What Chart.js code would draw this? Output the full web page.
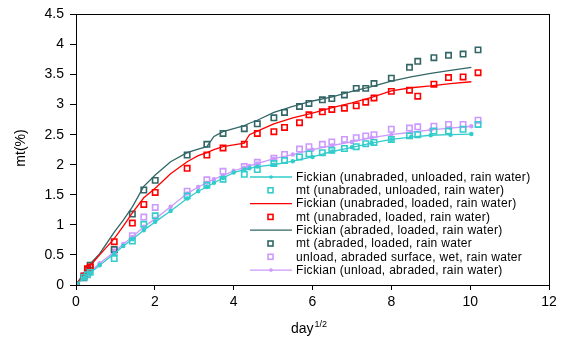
<!DOCTYPE html>
<html>
<head>
<meta charset="utf-8">
<script src="https://cdn.jsdelivr.net/npm/chart.js@4.4.0/dist/chart.umd.min.js"></script>
<style>
html, body { margin: 0; padding: 0; background: #fff; }
</style>
</head>
<body>
<canvas id="myChart" width="568" height="343"></canvas>
<script>
// DATOS MEDIDOS (x = day^1/2)
const mtX = [0, 0.2, 0.29, 0.36, 0.97, 1.43, 1.72, 2.01, 2.82, 3.32, 3.73, 4.27, 4.6, 5.02, 5.29, 5.67, 5.91, 6.25, 6.49, 6.81, 7.11, 7.35, 7.56, 8.0, 8.46, 8.67, 9.08, 9.45, 9.82, 10.2];
const mtUnabUnload = [0, 0.13, 0.17, 0.21, 0.44, 0.73, 1.01, 1.15, 1.48, 1.66, 1.76, 1.84, 1.92, 2.02, 2.07, 2.13, 2.18, 2.2, 2.24, 2.27, 2.3, 2.35, 2.37, 2.42, 2.48, 2.5, 2.56, 2.56, 2.59, 2.67];
const mtUnabLoad = [0, 0.15, 0.27, 0.3, 0.72, 1.03, 1.34, 1.54, 1.94, 2.16, 2.28, 2.34, 2.52, 2.55, 2.62, 2.7, 2.83, 2.88, 2.92, 2.94, 2.98, 3.04, 3.11, 3.22, 3.24, 3.14, 3.34, 3.45, 3.46, 3.53];
const mtAbLoad = [0, 0.12, 0.25, 0.33, 0.59, 1.18, 1.58, 1.74, 2.16, 2.34, 2.52, 2.6, 2.68, 2.78, 2.87, 2.97, 3.02, 3.08, 3.1, 3.16, 3.27, 3.27, 3.35, 3.44, 3.62, 3.72, 3.78, 3.82, 3.84, 3.91];
const mtUnloadAbWet = [0, 0.15, 0.19, 0.27, 0.55, 0.82, 1.13, 1.29, 1.56, 1.75, 1.89, 1.97, 2.04, 2.11, 2.17, 2.26, 2.3, 2.34, 2.38, 2.42, 2.45, 2.48, 2.5, 2.59, 2.61, 2.63, 2.64, 2.67, 2.67, 2.74];

// CURVAS FICKIAN
const fitX = [0, 0.2, 0.36, 0.6, 0.97, 1.2, 1.43, 1.72, 2.01, 2.4, 2.82, 3.1, 3.32, 3.5, 3.73, 4.0, 4.27, 4.4, 4.6, 5.02, 5.5, 6.0, 6.5, 7.0, 7.5, 8.0, 8.5, 9.0, 9.5, 10.03];
const fickUnabUnload = [0, 0.12, 0.2, 0.33, 0.52, 0.65, 0.76, 0.91, 1.05, 1.23, 1.44, 1.56, 1.63, 1.7, 1.78, 1.87, 1.92, 1.94, 1.97, 2.0, 2.06, 2.13, 2.22, 2.29, 2.36, 2.42, 2.46, 2.49, 2.5, 2.51];
const fickUnabLoad = [0, 0.18, 0.32, 0.5, 0.77, 0.98, 1.2, 1.45, 1.61, 1.85, 2.05, 2.15, 2.2, 2.25, 2.3, 2.33, 2.36, 2.5, 2.56, 2.68, 2.78, 2.86, 2.95, 3.03, 3.12, 3.23, 3.28, 3.31, 3.35, 3.38];
const fickAbLoad = [0, 0.2, 0.35, 0.52, 0.88, 1.08, 1.3, 1.64, 1.83, 2.05, 2.2, 2.26, 2.3, 2.47, 2.55, 2.6, 2.65, 2.69, 2.74, 2.87, 2.97, 3.06, 3.13, 3.22, 3.3, 3.39, 3.46, 3.52, 3.57, 3.62];
const fickUnloadAb = [0, 0.13, 0.22, 0.36, 0.55, 0.68, 0.8, 0.97, 1.1, 1.3, 1.52, 1.63, 1.7, 1.76, 1.82, 1.9, 1.95, 1.98, 2.02, 2.1, 2.17, 2.25, 2.32, 2.38, 2.45, 2.5, 2.54, 2.58, 2.61, 2.64];

// ETIQUETAS
const seriesLabels = [
    'Fickian (unabraded, unloaded, rain water)',
    'mt (unabraded, unloaded, rain water)',
    'Fickian (unabraded, loaded, rain water)',
    'mt (unabraded, loaded, rain water)',
    'Fickian (abraded, loaded, rain water)',
    'mt (abraded, loaded, rain water',
    'unload, abraded surface, wet, rain water',
    'Fickian (unload, abraded, rain water)'
];

const CYAN = '#33CCCC', RED = '#FF0000', DARK = '#336666', PURPLE = '#CC99FF';
const FONT = 'Liberation Sans, Arial, sans-serif';

function pts(xs, ys) {
    return xs.map((x, i) => ({ x: x, y: ys[i] }));
}

function lineSet(label, xs, ys, color, dots) {
    return {
        label: label, data: pts(xs, ys), showLine: true,
        borderColor: color, backgroundColor: color, borderWidth: 1.3,
        pointRadius: dots ? 1.6 : 0, pointStyle: 'circle', tension: 0
    };
}

function markSet(label, xs, ys, color) {
    return {
        label: label, data: pts(xs, ys), showLine: false,
        borderColor: color, backgroundColor: 'rgba(0,0,0,0)', borderWidth: 1.6,
        pointRadius: 3.8, pointStyle: 'rect'
    };
}

const datasets = [
    lineSet(seriesLabels[0], fitX, fickUnabUnload, CYAN, true),
    markSet(seriesLabels[1], mtX, mtUnabUnload, CYAN),
    lineSet(seriesLabels[2], fitX, fickUnabLoad, RED, false),
    markSet(seriesLabels[3], mtX, mtUnabLoad, RED),
    lineSet(seriesLabels[4], fitX, fickAbLoad, DARK, false),
    markSet(seriesLabels[5], mtX, mtAbLoad, DARK),
    markSet(seriesLabels[6], mtX, mtUnloadAbWet, PURPLE),
    lineSet(seriesLabels[7], fitX, fickUnloadAb, PURPLE, true)
];

// MARCO, LEYENDA Y TITULOS
const extras = {
    id: 'extras',
    afterDraw(chart) {
        const ctx = chart.ctx;
        const a = chart.chartArea;
        ctx.save();
        ctx.strokeStyle = '#000';
        ctx.lineWidth = 1;
        ctx.strokeRect(Math.round(a.left) + 0.5, Math.round(a.top) + 0.5, Math.round(a.right - a.left), Math.round(a.bottom - a.top));

        // leyenda
        ctx.font = '12px ' + FONT;
        ctx.letterSpacing = '0.3px';
        ctx.textBaseline = 'middle';
        ctx.textAlign = 'left';
        chart.data.datasets.forEach((ds, i) => {
            const y = 177 + i * 13.3;
            if (ds.showLine) {
                ctx.strokeStyle = ds.borderColor;
                ctx.lineWidth = 1.3;
                ctx.beginPath();
                ctx.moveTo(250, y);
                ctx.lineTo(292, y);
                ctx.stroke();
                if (ds.pointRadius > 0) {
                    ctx.fillStyle = ds.borderColor;
                    ctx.beginPath();
                    ctx.arc(271, y, 1.8, 0, Math.PI * 2);
                    ctx.fill();
                }
            } else {
                ctx.strokeStyle = ds.borderColor;
                ctx.lineWidth = 1.6;
                ctx.strokeRect(268, y - 2.5, 5, 5);
            }
            ctx.fillStyle = '#000';
            ctx.fillText(ds.label, 296, y + 0.5);
        });
        ctx.letterSpacing = '0px';

        // titulo eje x con superindice
        ctx.font = '14px ' + FONT;
        ctx.textBaseline = 'alphabetic';
        ctx.fillText('day', 291, 333);
        const w = ctx.measureText('day').width;
        ctx.font = '9px ' + FONT;
        ctx.fillText('1/2', 291 + w + 1, 327);

        // titulo eje y
        ctx.font = '14px ' + FONT;
        ctx.translate(21, 148);
        ctx.rotate(-Math.PI / 2);
        ctx.textAlign = 'center';
        ctx.textBaseline = 'middle';
        ctx.fillText('mt(%)', 0, 0);
        ctx.restore();
    }
};

var ctx = document.getElementById('myChart').getContext('2d');
window.myChart = new Chart(ctx, {
    type: 'scatter',
    data: { datasets: datasets },
    options: {
        responsive: false,
        animation: false,
        layout: { padding: { top: 11, right: 19, left: 0, bottom: 0 } },
        plugins: {
            legend: { display: false },
            tooltip: { enabled: false }
        },
        scales: {
            x: {
                type: 'linear', min: 0, max: 12,
                afterFit: s => { s.height = 58; },
                ticks: { stepSize: 2, color: '#000', font: { family: FONT, size: 14 }, padding: 4 },
                grid: { drawOnChartArea: false, drawTicks: true, tickLength: 5, color: '#000' },
                border: { display: true, color: '#000' }
            },
            y: {
                type: 'linear', min: 0, max: 4.5,
                afterFit: s => { s.width = 76; },
                ticks: { stepSize: 0.5, color: '#000', font: { family: FONT, size: 14 }, padding: 6, callback: v => String(v) },
                grid: { drawOnChartArea: false, drawTicks: true, tickLength: 6, color: '#000' },
                border: { display: true, color: '#000' }
            }
        }
    },
    plugins: [extras]
});
</script>
</body>
</html>
